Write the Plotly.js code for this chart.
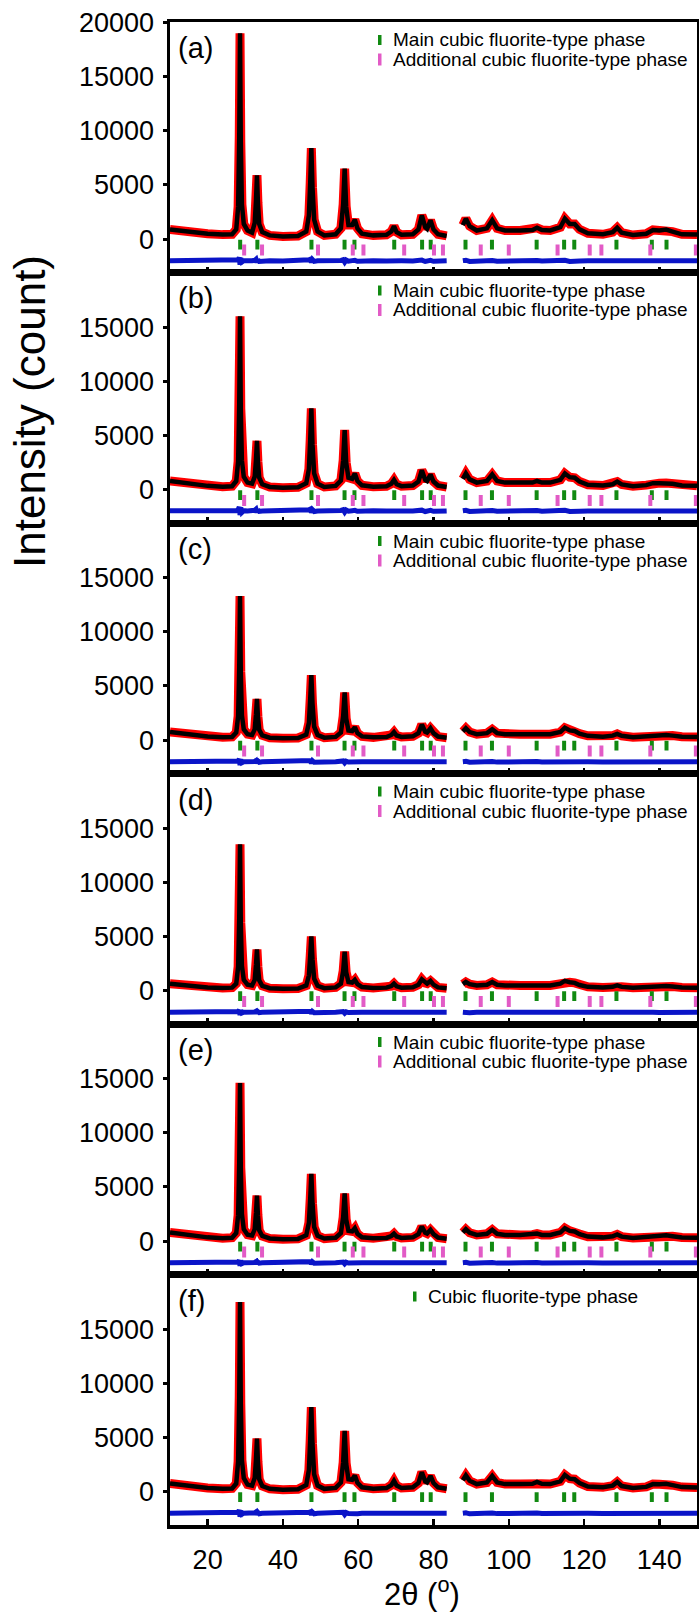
<!DOCTYPE html>
<html>
<head>
<meta charset="utf-8">
<script src="https://cdn.plot.ly/plotly-3.0.1.min.js"></script>
<style>
  html, body { margin: 0; padding: 0; background: #fff; }
  #chart { width: 699px; height: 1614px; }
</style>
</head>
<body>
<div id="chart"></div>
<script>
// ---------------- DATA ----------------
const twoTheta = [10,13,16,20,24,26.5,27.6,28.1,28.4,28.6,
  28.8,29.1,29.6,30.6,31.8,32.5,32.85,33.1,33.35,33.7,
  34.5,36.5,40,44,46.2,46.9,47.25,47.55,47.85,48.3,
  49.2,51,54,55.4,56.0,56.4,56.8,57.4,58.4,59.1,
  59.8,61,64,67.5,68.8,69.5,70.2,71.5,74.5,76.0,
  76.9,77.8,78.3,79.2,80.0,81.2,83.5,85.5,
  87.8,88.6,89.6,91.5,94.2,95.6,96.9,99,103,106.3,
  107.5,108.8,111,113.7,114.9,116.2,117.5,118.8,121,125,
  127.6,128.8,130,133,136.5,138.3,140,141.8,143.5,146,150];

const intensityA = [900,750,620,500,420,450,900,3000,9500,19000,
  9000,3200,1400,800,600,1500,3600,5900,3400,1400,
  650,350,250,300,700,2200,5200,8400,4800,1800,
  700,350,450,1000,3200,6500,3000,1300,1300,1800,
  1000,500,350,400,700,1200,650,400,450,900,
  2200,1100,950,1750,900,450,300,null,
  1300,1900,1200,800,1000,1750,1000,800,800,850,
  1050,850,800,1100,1900,1400,1400,900,550,450,
  650,1050,600,380,500,850,800,880,700,450,420];

const intensityB = [800,650,500,350,280,320,800,2600,8000,16000,
  7500,2700,1200,650,550,1200,2800,4500,2600,1100,
  500,250,180,220,600,1900,4600,7500,4200,1500,
  550,250,350,850,2700,5500,2500,1100,1000,1500,
  800,400,280,320,550,900,500,320,380,750,
  1800,900,800,1400,750,380,250,null,
  1000,1500,950,650,800,1400,800,650,650,650,
  800,650,650,900,1500,1150,1100,750,450,380,
  500,750,480,320,420,600,600,620,550,380,350];

const intensityC = [750,600,450,330,260,300,700,2200,6800,13300,
  6300,2300,1000,550,480,1000,2400,3800,2200,950,
  450,230,170,200,520,1600,3800,6000,3400,1250,
  480,230,300,700,2200,4400,2000,900,850,1200,
  650,350,260,290,480,750,430,300,350,650,
  1450,780,700,1100,650,330,230,null,
  800,1100,750,550,650,1000,650,550,550,550,
  650,550,550,750,1150,900,850,600,400,320,
  420,580,400,280,350,450,450,480,420,320,300];

const intensityD = [650,520,400,300,250,280,650,2200,6800,13500,
  6300,2300,1000,550,480,1000,2400,3800,2200,950,
  450,230,170,200,480,1400,3200,5000,2900,1100,
  450,230,300,650,1800,3600,1700,800,750,1000,
  600,330,250,280,420,650,400,280,320,550,
  1050,700,650,900,560,300,220,null,
  600,800,600,480,550,800,550,480,480,480,
  560,480,480,650,900,780,720,520,350,300,
  350,480,350,260,320,420,420,430,380,300,280];

const intensityE = [800,650,480,350,280,320,750,2400,7300,14600,
  6800,2500,1100,600,520,1100,2600,4200,2400,1000,
  480,250,180,210,550,1700,3900,6200,3500,1300,
  500,240,320,750,2200,4400,2000,950,900,1200,
  680,360,270,300,480,700,430,300,350,650,
  1350,780,700,1050,650,330,230,null,
  800,1100,780,580,680,1050,680,580,580,600,
  700,580,580,800,1200,950,900,650,420,350,
  450,620,420,300,380,520,520,540,460,340,320];

const intensityF = [750,600,450,330,270,300,750,2800,8800,17500,
  8200,2900,1250,650,560,1250,3000,4900,2800,1150,
  520,260,180,220,620,2000,4800,7800,4400,1600,
  560,260,350,850,2700,5600,2600,1150,1100,1500,
  820,400,280,330,600,1000,560,340,400,800,
  1800,950,850,1450,800,400,270,null,
  1050,1500,1000,700,850,1450,850,700,700,720,
  900,720,700,950,1550,1200,1150,800,480,400,
  560,900,520,340,440,700,680,720,600,420,380];

// difference curves (obs - calc, drawn with an offset as in the figure)
const diffA = [-2000,-1990,-2010,-2000,-1995,-2005,-1980,-1900,-1700,-2350,
  -1750,-2100,-1980,-2010,-1990,-1950,-1850,-2150,-1900,-2050,
  -2000,-1990,-2010,-2000,-1980,-1900,-1850,-2150,-1880,-2050,
  -2000,-2010,-1990,-1960,-1900,-2120,-1920,-2030,-1980,-1950,
  -2040,-2000,-1990,-2010,-1980,-1950,-2040,-2000,-2010,-1980,
  -1930,-2060,-2000,-1950,-2040,-1990,-2000,null,
  -1980,-1940,-2050,-2000,-1990,-1960,-2030,-2000,-2010,-1990,
  -1970,-2020,-2000,-1980,-1940,-2050,-1980,-2020,-2000,-2010,
  -1990,-1970,-2030,-2000,-1990,-1980,-2010,-2000,-1990,-2000,-2000];
const diffB = [-1950,-1960,-1970,-1960,-1950,-1960,-1940,-1850,-1600,-2350,
  -1650,-2100,-1940,-1970,-1950,-1900,-1800,-2100,-1850,-2000,
  -1960,-1950,-1970,-1960,-1940,-1860,-1800,-2100,-1850,-2010,
  -1960,-1970,-1950,-1920,-1850,-2080,-1880,-1990,-1940,-1910,
  -2000,-1960,-1950,-1970,-1940,-1910,-2000,-1960,-1970,-1940,
  -1890,-2020,-1960,-1910,-2000,-1950,-1960,null,
  -1940,-1900,-2010,-1960,-1950,-1920,-1990,-1960,-1970,-1950,
  -1930,-1980,-1960,-1940,-1900,-2010,-1940,-1980,-1960,-1970,
  -1950,-1930,-1990,-1960,-1950,-1940,-1970,-1960,-1950,-1960,-1960];
const diffC = [-2000,-1995,-2005,-2000,-1995,-2000,-1985,-1920,-1750,-2300,
  -1780,-2080,-1990,-2010,-1995,-1960,-1880,-2120,-1920,-2040,
  -2000,-1995,-2005,-2000,-1985,-1920,-1880,-2120,-1900,-2040,
  -2000,-2005,-1995,-1970,-1920,-2100,-1940,-2020,-1985,-1960,
  -2030,-2000,-1995,-2005,-1985,-1960,-2030,-2000,-2005,-1985,
  -1950,-2050,-2000,-1960,-2030,-1995,-2000,null,
  -1985,-1955,-2040,-2000,-1995,-1970,-2025,-2000,-2005,-1995,
  -1975,-2015,-2000,-1985,-1955,-2040,-1985,-2015,-2000,-2005,
  -1995,-1975,-2025,-2000,-1995,-1985,-2005,-2000,-1995,-2000,-2000];
const diffD = [-2000,-1995,-2005,-2000,-1995,-2000,-1985,-1930,-1800,-2250,
  -1800,-2060,-1990,-2010,-1995,-1970,-1900,-2100,-1930,-2030,
  -2000,-1995,-2005,-2000,-1985,-1930,-1900,-2100,-1920,-2030,
  -2000,-2005,-1995,-1975,-1930,-2080,-1950,-2020,-1985,-1965,
  -2025,-2000,-1995,-2005,-1985,-1965,-2025,-2000,-2005,-1985,
  -1960,-2040,-2000,-1965,-2025,-1995,-2000,null,
  -1985,-1960,-2035,-2000,-1995,-1975,-2020,-2000,-2005,-1995,
  -1980,-2015,-2000,-1985,-1960,-2035,-1985,-2015,-2000,-2005,
  -1995,-1980,-2020,-2000,-1995,-1985,-2005,-2000,-1995,-2000,-2000];
const diffE = [-2000,-1995,-2005,-2000,-1995,-2000,-1985,-1920,-1780,-2280,
  -1790,-2070,-1990,-2010,-1995,-1965,-1890,-2110,-1925,-2035,
  -2000,-1995,-2005,-2000,-1985,-1925,-1890,-2110,-1910,-2035,
  -2000,-2005,-1995,-1970,-1925,-2090,-1945,-2020,-1985,-1960,
  -2030,-2000,-1995,-2005,-1985,-1960,-2030,-2000,-2005,-1985,
  -1955,-2045,-2000,-1960,-2030,-1995,-2000,null,
  -1985,-1955,-2040,-2000,-1995,-1970,-2025,-2000,-2005,-1995,
  -1975,-2015,-2000,-1985,-1955,-2040,-1985,-2015,-2000,-2005,
  -1995,-1975,-2025,-2000,-1995,-1985,-2005,-2000,-1995,-2000,-2000];
const diffF = [-2000,-1995,-2005,-2000,-1995,-2000,-1985,-1900,-1700,-2320,
  -1760,-2090,-1985,-2010,-1995,-1955,-1870,-2130,-1910,-2045,
  -2000,-1995,-2005,-2000,-1985,-1910,-1870,-2130,-1895,-2045,
  -2000,-2005,-1995,-1965,-1910,-2110,-1935,-2025,-1985,-1955,
  -2035,-2000,-1995,-2005,-1985,-1955,-2035,-2000,-2005,-1985,
  -1945,-2050,-2000,-1955,-2035,-1995,-2000,null,
  -1985,-1950,-2045,-2000,-1995,-1965,-2025,-2000,-2005,-1995,
  -1975,-2015,-2000,-1985,-1950,-2045,-1985,-2015,-2000,-2005,
  -1995,-1975,-2025,-2000,-1995,-1985,-2005,-2000,-1995,-2000,-2000];

// Bragg reflection positions (2theta)
const mainPhaseTicks = [28.64,33.21,47.58,56.37,59.0,69.57,76.97,79.26,88.5,95.53,107.4,114.7,117.4,128.6,138.0,141.9];
const extraTicksA = [29.70,34.45,49.32,58.56,61.39,72.21,80.13,82.51,92.55,100.0,112.96,121.5,124.6,137.6,149.7];
const extraTicksB = [29.70,34.45,49.32,58.56,61.39,72.21,80.13,82.51,92.55,100.0,112.96,121.5,124.6,137.6,149.7];
const extraTicksC = [29.70,34.45,49.32,58.56,61.39,72.21,80.13,82.51,92.55,100.0,112.96,121.5,124.6,137.6,149.7];
const extraTicksD = [29.70,34.45,49.32,58.56,61.39,72.21,80.13,82.51,92.55,100.0,112.96,121.5,124.6,137.6,149.7];
const extraTicksE = [29.70,34.45,49.32,58.56,61.39,72.21,80.13,82.51,92.55,100.0,112.96,121.5,124.6,137.6,149.7];

const mainTickLevel = -500;    // y level of the main-phase reflection marks
const extraTickLevel = -1000;  // y level of the additional-phase reflection marks

const panelLabels = ['(a)','(b)','(c)','(d)','(e)','(f)'];
const xTickVals = [20,40,60,80,100,120,140];
const yTickValsTop = [0,5000,10000,15000,20000];
const yTickVals = [0,5000,10000,15000];
const legendMain = 'Main cubic fluorite-type phase';
const legendExtra = 'Additional cubic fluorite-type phase';
const legendSingle = 'Cubic fluorite-type phase';

// ---------------- FIGURE ----------------
const W = 699, H = 1614, ML = 170, MR = 2, MT = 22, MB = 89;
const PW = W - ML - MR, PH = H - MT - MB;
const NP = 6;
const px2x = p => (p - ML) / PW;
const py2y = p => 1 - (p - MT) / PH;
const FONT = 'Liberation Sans, Arial, Helvetica, sans-serif';
const RED = '#ff0000', BLACK = '#000000', BLUE = '#0a14c8', GREEN = '#118a11', PINK = '#e25bc6';

const intens = [intensityA, intensityB, intensityC, intensityD, intensityE, intensityF];
const diffs = [diffA, diffB, diffC, diffD, diffE, diffF];
const extras = [extraTicksA, extraTicksB, extraTicksC, extraTicksD, extraTicksE, null];

const traces = [];
const layout = {
  width: W, height: H,
  margin: {l: ML, r: MR, t: MT, b: MB, pad: 0},
  paper_bgcolor: '#fff', plot_bgcolor: '#fff',
  showlegend: false,
  font: {family: FONT, color: '#000'},
  annotations: [], shapes: []
};

for (let i = 0; i < NP; i++) {
  const sx = i === 0 ? '' : String(i + 1);
  const xa = 'x' + sx, ya = 'y' + sx;
  const dom = [1 - (i + 1) / NP, 1 - i / NP];

  layout['xaxis' + sx] = {
    domain: [0, 1], anchor: ya, range: [10, 150],
    showline: true, linewidth: 3.5, linecolor: BLACK, mirror: true,
    ticks: 'inside', ticklen: 6, tickwidth: 2.5, tickcolor: BLACK,
    tickvals: xTickVals, tickformat: 'd', showticklabels: i === NP - 1,
    tickfont: {family: FONT, size: 27, color: BLACK},
    ticklabelstandoff: 8,
    showgrid: false, zeroline: false, fixedrange: true
  };
  if (i > 0) layout['xaxis' + sx].matches = 'x';
  layout['yaxis' + sx] = {
    domain: dom, anchor: xa, range: [-3075, 20035],
    showline: true, linewidth: 3.5, linecolor: BLACK, mirror: true,
    ticks: 'outside', ticklen: 4, tickwidth: 3, tickcolor: BLACK,
    tickvals: i === 0 ? yTickValsTop : yTickVals, tickformat: 'd',
    tickfont: {family: FONT, size: 27, color: BLACK},
    ticklabelstandoff: 3,
    showgrid: false, zeroline: false, fixedrange: true
  };

  // observed (red), calculated (black), difference (blue)
  traces.push({x: twoTheta, y: intens[i], xaxis: xa, yaxis: ya, type: 'scatter', mode: 'lines',
    line: {color: RED, width: 9}, hoverinfo: 'skip'});
  traces.push({x: twoTheta, y: intens[i], xaxis: xa, yaxis: ya, type: 'scatter', mode: 'lines',
    line: {color: BLACK, width: 4.5}, hoverinfo: 'skip'});
  traces.push({x: twoTheta, y: diffs[i], xaxis: xa, yaxis: ya, type: 'scatter', mode: 'lines',
    line: {color: BLUE, width: 5}, hoverinfo: 'skip'});
  // reflection marks
  traces.push({x: mainPhaseTicks, y: mainPhaseTicks.map(() => mainTickLevel), xaxis: xa, yaxis: ya,
    type: 'scatter', mode: 'markers',
    marker: {symbol: 'line-ns', size: 7, line: {color: GREEN, width: 4}}, hoverinfo: 'skip'});
  if (extras[i]) {
    traces.push({x: extras[i], y: extras[i].map(() => extraTickLevel), xaxis: xa, yaxis: ya,
      type: 'scatter', mode: 'markers',
      marker: {symbol: 'line-ns', size: 8, line: {color: PINK, width: 4}}, hoverinfo: 'skip'});
  }

  const top = MT + i * PH / NP;
  // panel label
  layout.annotations.push({text: panelLabels[i], xref: 'paper', yref: 'paper',
    x: px2x(176), y: py2y(top + 26), xanchor: 'left', yanchor: 'middle', showarrow: false,
    font: {family: FONT, size: 29, color: BLACK}});
  // legend keys / texts
  if (i < NP - 1) {
    const y1 = top + 18, y2 = top + 37.5;
    layout.annotations.push({text: legendMain, xref: 'paper', yref: 'paper',
      x: px2x(391), y: py2y(y1), xanchor: 'left', yanchor: 'middle', showarrow: false,
      font: {family: FONT, size: 19, color: BLACK}});
    layout.annotations.push({text: legendExtra, xref: 'paper', yref: 'paper',
      x: px2x(391), y: py2y(y2), xanchor: 'left', yanchor: 'middle', showarrow: false,
      font: {family: FONT, size: 19, color: BLACK}});
    layout.shapes.push({type: 'rect', xref: 'paper', yref: 'paper',
      x0: px2x(378), x1: px2x(381.5), y0: py2y(y1 + 5), y1: py2y(y1 - 5),
      fillcolor: GREEN, line: {width: 0}});
    layout.shapes.push({type: 'rect', xref: 'paper', yref: 'paper',
      x0: px2x(378), x1: px2x(381.5), y0: py2y(y2 + 6), y1: py2y(y2 - 6),
      fillcolor: PINK, line: {width: 0}});
  } else {
    const y1 = top + 22;
    layout.annotations.push({text: legendSingle, xref: 'paper', yref: 'paper',
      x: px2x(426), y: py2y(y1), xanchor: 'left', yanchor: 'middle', showarrow: false,
      font: {family: FONT, size: 19, color: BLACK}});
    layout.shapes.push({type: 'rect', xref: 'paper', yref: 'paper',
      x0: px2x(413), x1: px2x(416.5), y0: py2y(y1 + 5), y1: py2y(y1 - 5),
      fillcolor: GREEN, line: {width: 0}});
  }
}

// axis titles
layout.annotations.push({text: 'Intensity (count)', xref: 'paper', yref: 'paper',
  x: px2x(30), y: py2y(412), xanchor: 'center', yanchor: 'middle', textangle: -90,
  showarrow: false, font: {family: FONT, size: 44, color: BLACK}});
layout.annotations.push({text: '2θ (<sup>o</sup>)', xref: 'paper', yref: 'paper',
  x: px2x(422), y: py2y(1614), xanchor: 'center', yanchor: 'bottom',
  showarrow: false, font: {family: FONT, size: 31, color: BLACK}});

Plotly.newPlot('chart', traces, layout, {staticPlot: true, displayModeBar: false});
</script>
</body>
</html>
